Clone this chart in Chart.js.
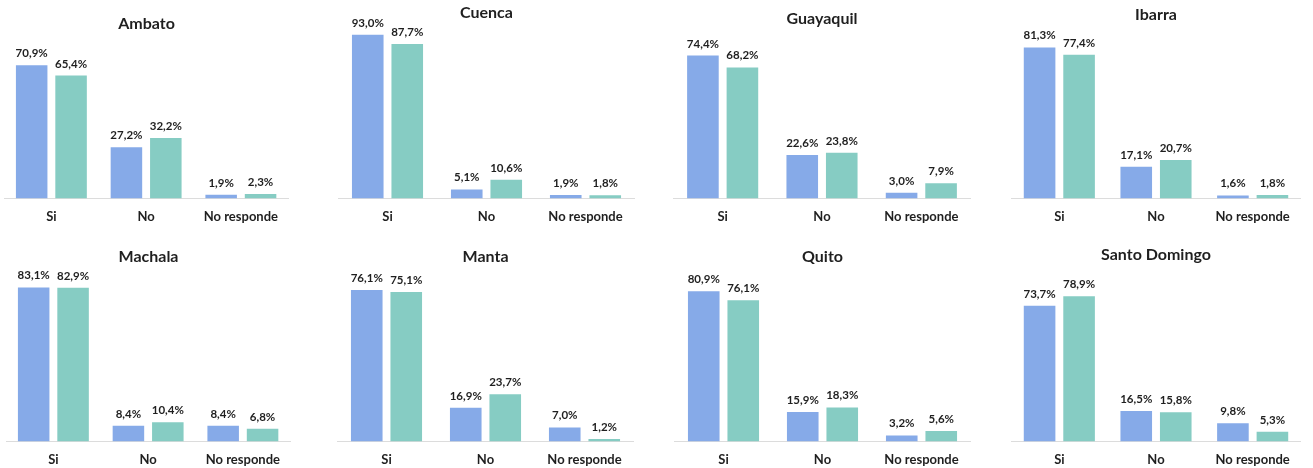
<!DOCTYPE html>
<html>
<head>
<meta charset="utf-8">
<script src="https://cdn.jsdelivr.net/npm/chart.js@4.4.0/dist/chart.umd.min.js"></script>
<style>
	html, body { margin: 0; padding: 0; background: #fff; overflow: hidden; }
	#wrap { position: relative; width: 1313px; height: 468px; overflow: hidden; }
	canvas { position: absolute; }
</style>
</head>
<body>
<div id="wrap"></div>
<script>
// data (percent)
var ciudades = ["Ambato", "Cuenca", "Guayaquil", "Ibarra", "Machala", "Manta", "Quito", "Santo Domingo"];
var categorias = ["Si", "No", "No responde"];
var serie1 = [
	[70.9, 27.2, 1.9],
	[93.0, 5.1, 1.9],
	[74.4, 22.6, 3.0],
	[81.3, 17.1, 1.6],
	[83.1, 8.4, 8.4],
	[76.1, 16.9, 7.0],
	[80.9, 15.9, 3.2],
	[73.7, 16.5, 9.8]
];
var serie2 = [
	[65.4, 32.2, 2.3],
	[87.7, 10.6, 1.8],
	[68.2, 23.8, 7.9],
	[77.4, 20.7, 1.8],
	[82.9, 10.4, 6.8],
	[75.1, 23.7, 1.2],
	[76.1, 18.3, 5.6],
	[78.9, 15.8, 5.3]
];

// panel layout: plot left, plot width, row, title centre y, pixels per percent
var paneles = [
	{ left: 4, width: 285, row: 0, titleY: 24, ppp: 1.878 },
	{ left: 338, width: 297, row: 0, titleY: 13, ppp: 1.76 },
	{ left: 673, width: 298, row: 0, titleY: 19, ppp: 1.92 },
	{ left: 1011, width: 290, row: 0, titleY: 15, ppp: 1.857 },
	{ left: 6, width: 285, row: 1, titleY: 23, ppp: 1.853 },
	{ left: 337, width: 297, row: 1, titleY: 23, ppp: 1.99 },
	{ left: 674, width: 297, row: 1, titleY: 23, ppp: 1.856 },
	{ left: 1011, width: 290, row: 1, titleY: 21, ppp: 1.84 }
];
var rowTop = [0, 234];
var baseline = [198, 207.5];

var azul = "#86AAE8";
var verde = "#86CCC3";

Chart.defaults.font.family = "Lato";
Chart.defaults.color = "#262626";

var tickPad = 11;
var tickFont = 13;
var axisH = tickFont * 1.2 + tickPad * 2;

// value labels above each bar
var etiquetas = {
	id: "etiquetas",
	afterDatasetsDraw: function (chart) {
		var ctx = chart.ctx;
		ctx.save();
		ctx.font = "bold 11.5px Lato";
		ctx.fillStyle = "#1f1f1f";
		ctx.textAlign = "center";
		ctx.textBaseline = "alphabetic";
		chart.data.datasets.forEach(function (ds, i) {
			chart.getDatasetMeta(i).data.forEach(function (bar, j) {
				var txt = ds.data[j].toFixed(1).replace(".", ",") + "%";
				ctx.fillText(txt, bar.x, bar.y - 8);
			});
		});
		ctx.restore();
	}
};

var wrap = document.getElementById("wrap");

for (var i = 0; i < ciudades.length; i++) {
	var p = paneles[i];
	var alto = baseline[p.row] + axisH;
	var cv = document.createElement("canvas");
	cv.width = p.width;
	cv.height = Math.round(alto);
	cv.style.left = p.left + "px";
	cv.style.top = rowTop[p.row] + "px";
	wrap.appendChild(cv);

	var sep = p.width / 3;
	var chart = new Chart(cv.getContext("2d"), {
		type: "bar",
		data: {
			labels: categorias,
			datasets: [
				{ data: serie1[i], backgroundColor: azul, barPercentage: 0.8, categoryPercentage: 79 / sep },
				{ data: serie2[i], backgroundColor: verde, barPercentage: 0.8, categoryPercentage: 79 / sep }
			]
		},
		options: {
			responsive: false,
			animation: false,
			devicePixelRatio: 1,
			layout: { padding: 0 },
			plugins: {
				legend: { display: false },
				tooltip: { enabled: false },
				title: {
					display: true,
					text: ciudades[i],
					color: "#1f1f1f",
					font: { size: 16, weight: "bold", lineHeight: 1.2 },
					padding: { top: p.titleY - 9.6, bottom: 0 }
				}
			},
			scales: {
				x: {
					grid: { display: false, drawTicks: false },
					border: { display: true, color: "#DCDCDC", width: 1 },
					ticks: { padding: tickPad, font: { size: tickFont, weight: "bold" }, color: "#1f1f1f", maxRotation: 0 }
				},
				y: { display: false, min: 0, max: 100 }
			}
		},
		plugins: [etiquetas]
	});
	// scale so that one percent takes the same height as in the picture
	chart.options.scales.y.max = chart.chartArea.height / p.ppp;
	chart.update("none");
}
</script>
</body>
</html>
